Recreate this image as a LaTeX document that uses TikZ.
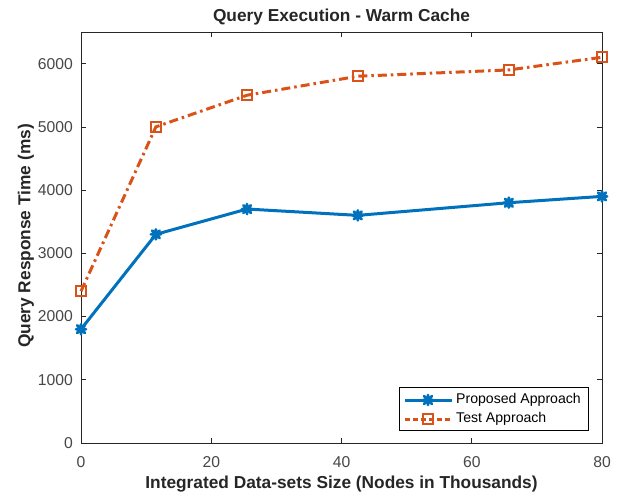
\documentclass[tikz,border=0pt]{standalone}
\usepackage{fontspec}
\setmainfont{Liberation Sans}
\usetikzlibrary{positioning}
\definecolor{propblue}{RGB}{0,114,189}
\definecolor{testorange}{RGB}{217,83,25}
\definecolor{axgray}{RGB}{38,38,38}
\tikzset{ast/.pic={\draw[propblue,line width=2.8pt,line cap=round]
  (-5pt,0)--(5pt,0) (0,-5pt)--(0,5pt) (-3.8pt,-3.8pt)--(3.8pt,3.8pt) (-3.8pt,3.8pt)--(3.8pt,-3.8pt);}}

\begin{document}
\begin{tikzpicture}[x=1pt,y=1pt,
  tick/.style={font=\fontsize{15.7}{18}\selectfont,text=axgray!85,inner sep=0pt},
  lbl/.style={font=\fontsize{17.3}{20}\selectfont\bfseries,text=axgray},
  leg/.style={font=\fontsize{14.1}{16}\selectfont,text=black,inner sep=0pt,anchor=west},
  proposed/.style={propblue,line width=3pt,line join=round},
  test/.style={testorange,line width=3pt,dash pattern=on 9pt off 4pt on 2.5pt off 4pt},
  sq/.style={draw=testorange,line width=1.8pt,minimum size=10pt,inner sep=0pt,solid}]
\fill[white] (0,0) rectangle (620,496);
\useasboundingbox (0,0) rectangle (620,496);

\begin{scope}[shift={(81,53)},x=6.5125pt,y=0.06323pt]
\draw[axgray,line width=0.6pt] (0,0) rectangle (80,6500);
\draw[axgray,line width=0.6pt]
  (20,0)--++(0,5pt) (40,0)--++(0,5pt) (60,0)--++(0,5pt)
  (20,6500)--++(0,-5pt) (40,6500)--++(0,-5pt) (60,6500)--++(0,-5pt)
  (0,1000)--++(5pt,0) (0,2000)--++(5pt,0) (0,3000)--++(5pt,0)
  (0,4000)--++(5pt,0) (0,5000)--++(5pt,0) (0,6000)--++(5pt,0)
  (80,1000)--++(-5pt,0) (80,2000)--++(-5pt,0) (80,3000)--++(-5pt,0)
  (80,4000)--++(-5pt,0) (80,5000)--++(-5pt,0) (80,6000)--++(-5pt,0);

% tick labels
\node[tick,below=13pt] (xt0) at (0,0) {0};
\node[tick,below=13pt] (xt20) at (20,0) {20};
\node[tick,below=13pt] (xt40) at (40,0) {40};
\node[tick,below=13pt] (xt60) at (60,0) {60};
\node[tick,below=13pt] (xt80) at (80,0) {80};
\node[tick,left=8pt] (yt0) at (0,0) {0};
\node[tick,left=8pt] (yt1) at (0,1000) {1000};
\node[tick,left=8pt] (yt2) at (0,2000) {2000};
\node[tick,left=8pt] (yt3) at (0,3000) {3000};
\node[tick,left=8pt] (yt4) at (0,4000) {4000};
\node[tick,left=8pt] (yt5) at (0,5000) {5000};
\node[tick,left=8pt] (yt6) at (0,6000) {6000};

% data
\coordinate (p1) at (0,1800);
\coordinate (p2) at (11.5,3300);
\coordinate (p3) at (25.5,3700);
\coordinate (p4) at (42.5,3600);
\coordinate (p5) at (65.7,3800);
\coordinate (p6) at (80,3900);
\coordinate (q1) at (0,2400);
\coordinate (q2) at (11.5,5000);
\coordinate (q3) at (25.5,5500);
\coordinate (q4) at (42.5,5800);
\coordinate (q5) at (65.7,5900);
\coordinate (q6) at (80,6100);
\draw[proposed] (p1)--(p2)--(p3)--(p4)--(p5)--(p6);
\pic at (p1) {ast}; \pic at (p2) {ast}; \pic at (p3) {ast};
\pic at (p4) {ast}; \pic at (p5) {ast}; \pic at (p6) {ast};
\draw[test] (q1)--(q2)--(q3)--(q4)--(q5)--(q6);
\node[sq] (t1) at (q1) {}; \node[sq] (t2) at (q2) {}; \node[sq] (t3) at (q3) {};
\node[sq] (t4) at (q4) {}; \node[sq] (t5) at (q5) {}; \node[sq] (t6) at (q6) {};
\end{scope}

\node[lbl] (title) at (341.5,479) {Query Execution - Warm Cache};
\node[lbl] (xlab) at (341.5,12) {Integrated Data-sets Size (Nodes in Thousands)};
\node[lbl,rotate=90] (ylab) at (26,260) {Query Response Time (ms)};

% legend
\draw[black,line width=0.6pt,fill=white] (399,66) rectangle (588,109);
\coordinate (la1) at (405,96); \coordinate (la2) at (452,96);
\coordinate (lb1) at (405,77); \coordinate (lb2) at (452,77);
\draw[proposed] (la1)--(la2);
\pic at (428,96) {ast};
\draw[test,dash pattern=on 5pt off 3pt] (lb1)--(lb2);
\node[sq] (lsq) at (428,77) {};
\node[leg] (legA) at (456,96) {Proposed Approach};
\node[leg] (legB) at (456,77) {Test Approach};
\end{tikzpicture}
\end{document}
